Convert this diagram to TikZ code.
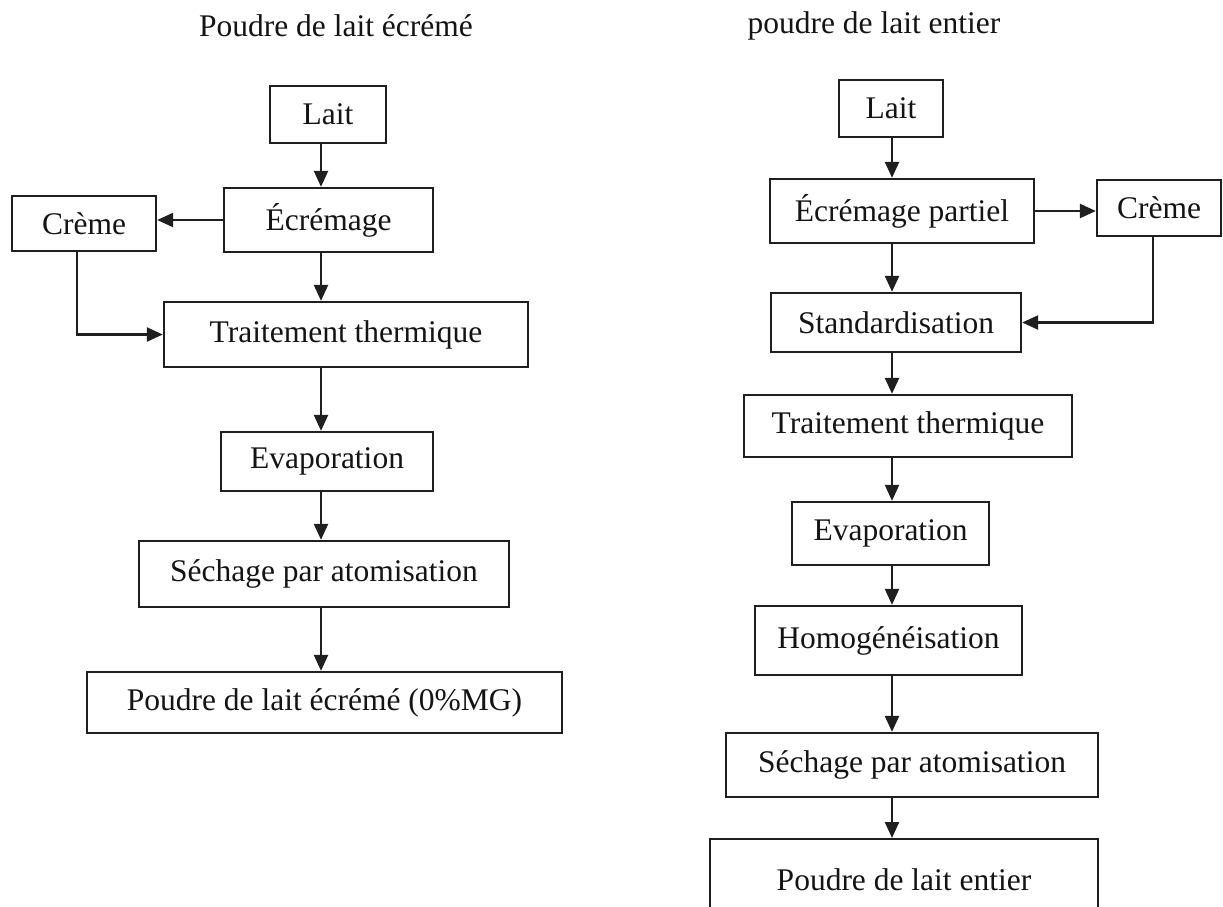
\documentclass[tikz,border=0pt]{standalone}
\usepackage{fontspec}
\setmainfont{Liberation Serif}
\usetikzlibrary{arrows.meta}
\begin{document}
\begin{tikzpicture}[x=1pt,y=-1pt,
  stepbox/.style={draw=black!88, line width=2.3pt, inner sep=0pt, rectangle, text=black!92},
  arr/.style={draw=black!88, line width=2.3pt, -{Triangle[length=16pt,width=14pt]}},
  font=\fontsize{31.5}{36}\selectfont]
\useasboundingbox (0,0) rectangle (1223,906);
\fill[white] (0,0) rectangle (1223,906);
\clip (0,0) rectangle (1223,906);
% titles
\node[text=black!92] (titL) at (336,26) {Poudre de lait écrémé};
\node[text=black!92] (titR) at (874,26) {poudre de lait entier};
% left column
\coordinate (Lx) at (321,0);
\node[stepbox, minimum width=116pt, minimum height=57pt] (laitL) at (328,114.5) {Lait};
\node[stepbox, minimum width=209pt, minimum height=64pt] (ecrL) at (328.5,220) {Écrémage};
\node[stepbox, minimum width=144pt, minimum height=55pt] (cremeL) at (84,223.5) {Crème};
\node[stepbox, minimum width=364pt, minimum height=65pt] (ttL) at (346,334.5) {Traitement thermique};
\node[stepbox, minimum width=212pt, minimum height=59pt] (evL) at (327,461.5) {Evaporation};
\node[stepbox, minimum width=370pt, minimum height=66pt] (seL) at (324,574) {Séchage par atomisation};
\node[stepbox, minimum width=475pt, minimum height=61pt] (poL) at (324.5,702.5) {Poudre de lait écrémé (0\%MG)};
\draw[arr] (laitL.south -| Lx) -- (ecrL.north -| Lx);
\draw[arr] (ecrL.west) -- (ecrL.west -| cremeL.east);
\draw[arr] (ecrL.south -| Lx) -- (ttL.north -| Lx);
\draw[arr] ([xshift=-7pt]cremeL.south) |- (ttL.west);
\draw[arr] (ttL.south -| Lx) -- (evL.north -| Lx);
\draw[arr] (evL.south -| Lx) -- (seL.north -| Lx);
\draw[arr] (seL.south -| Lx) -- (poL.north -| Lx);
% right column
\coordinate (Rx) at (892,0);
\node[stepbox, minimum width=104pt, minimum height=57pt] (laitR) at (891,108.5) {Lait};
\node[stepbox, minimum width=264pt, minimum height=64pt] (ecrR) at (902,211) {Écrémage partiel};
\node[stepbox, minimum width=124pt, minimum height=56pt] (cremeR) at (1159,208) {Crème};
\node[stepbox, minimum width=250pt, minimum height=59pt] (stdR) at (896,322.5) {Standardisation};
\node[stepbox, minimum width=328pt, minimum height=62pt] (ttR) at (908,426) {Traitement thermique};
\node[stepbox, minimum width=197pt, minimum height=63pt] (evR) at (890.5,533.5) {Evaporation};
\node[stepbox, minimum width=267pt, minimum height=69pt] (hoR) at (888.5,640.5) {Homogénéisation};
\node[stepbox, minimum width=372pt, minimum height=64pt] (seR) at (912,765) {Séchage par atomisation};
\node[stepbox, minimum width=388pt, minimum height=76pt, text depth=0pt, anchor=north] (poR) at (904,838) {\raisebox{0pt}[26pt][10pt]{}Poudre de lait entier};
\draw[arr] (laitR.south -| Rx) -- (ecrR.north -| Rx);
\draw[arr] (ecrR.east) -- (ecrR.east -| cremeR.west);
\draw[arr] (ecrR.south -| Rx) -- (stdR.north -| Rx);
\draw[arr] ([xshift=-6pt]cremeR.south) |- (stdR.east);
\draw[arr] (stdR.south -| Rx) -- (ttR.north -| Rx);
\draw[arr] (ttR.south -| Rx) -- (evR.north -| Rx);
\draw[arr] (evR.south -| Rx) -- (hoR.north -| Rx);
\draw[arr] (hoR.south -| Rx) -- (seR.north -| Rx);
\draw[arr] (seR.south -| Rx) -- (poR.north -| Rx);
\end{tikzpicture}
\end{document}
